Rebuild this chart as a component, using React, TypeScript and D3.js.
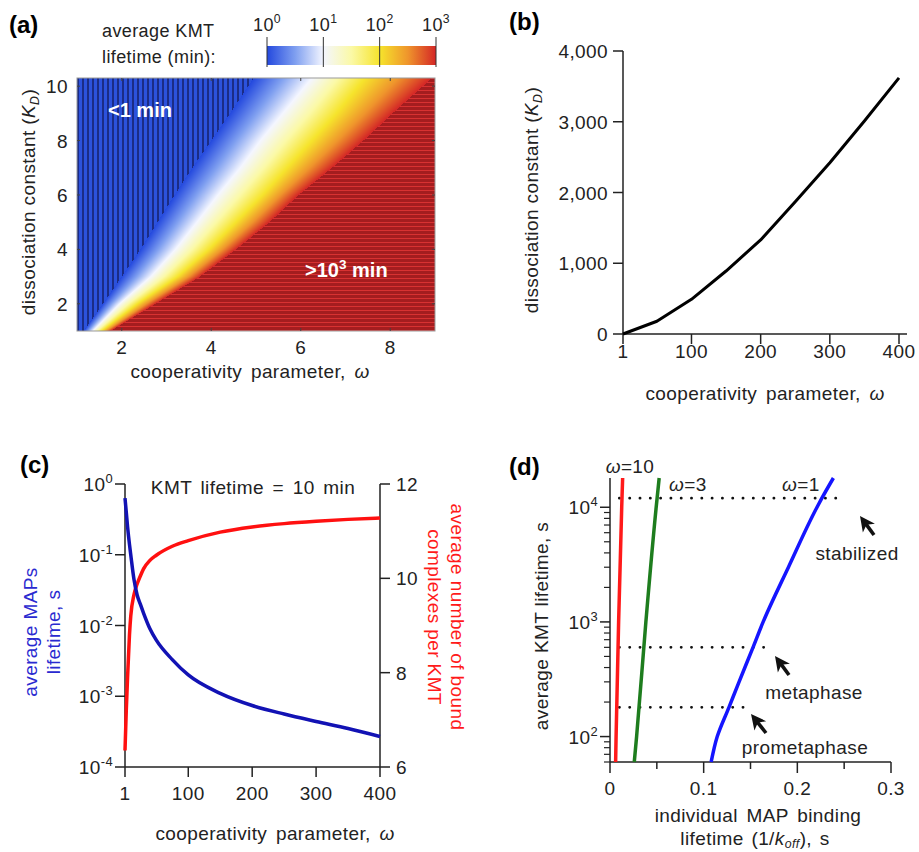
import React, { useEffect, useState } from 'react';
import * as d3 from 'd3';

const FONT = "'Liberation Sans', Arial, Helvetica, sans-serif";

// (a) omega positions of the lifetime contours (10^0..10^3 min) at each KD level
const kdLevels = [1, 2, 3, 4, 5, 6, 7, 8, 9, 10.3];
const omegaAt1min = [1.15, 1.58, 2.0, 2.42, 2.8, 3.18, 3.58, 4.0, 4.42, 4.95];
const omegaAt10min = [1.35, 1.95, 2.65, 3.2, 3.68, 4.15, 4.65, 5.1, 5.6, 6.25];
const omegaAt100min = [1.55, 2.35, 3.25, 3.95, 4.55, 5.15, 5.7, 6.25, 6.8, 7.44];
const omegaAt1000min = [1.75, 2.75, 3.75, 4.55, 5.3, 5.95, 6.7, 7.4, 8.05, 8.93];
const contourLogs = [0, 1, 2, 3];
const aXTicks = [2, 4, 6, 8];
const aYTicks = [2, 4, 6, 8, 10];

// (b) KD vs omega
const bOmega = [1, 50, 100, 150, 200, 250, 300, 350, 400];
const bKd = [0, 180, 490, 890, 1330, 1870, 2420, 3010, 3620];
const bXTicks = [1, 100, 200, 300, 400];
const bYTicks = [0, 1000, 2000, 3000, 4000];

// (c) MAP lifetime and bound complexes vs omega
const cOmega = [1, 3, 5, 8, 10, 15, 20, 25, 30, 40, 50, 75, 100, 150, 200, 250, 300, 350, 400];
const cMapLifetime = [0.63, 0.4, 0.25, 0.14, 0.1, 0.045, 0.027, 0.02, 0.015, 0.009, 0.0062, 0.0033, 0.002, 0.0011, 0.00074, 0.00056, 0.00044, 0.00035, 0.00027];
const cBound = [6.35, 7.2, 7.9, 8.8, 9.2, 9.65, 9.88, 10.05, 10.2, 10.38, 10.49, 10.68, 10.8, 10.98, 11.09, 11.16, 11.21, 11.25, 11.28];
const cXTicks = [1, 100, 200, 300, 400];
const cYLTicks = [0, -1, -2, -3, -4];
const cYRTicks = [6, 8, 10, 12];

// (d) KMT lifetime vs individual MAP binding lifetime
const dKmtW1 = [60, 100, 180, 300, 600, 1000, 3000, 10000, 12000, 18000];
const dMapW1 = [0.108, 0.1145, 0.127, 0.1378, 0.1527, 0.1635, 0.1905, 0.221, 0.2262, 0.2385];
const dKmtW3 = [60, 100, 1000, 10000, 18000];
const dMapW3 = [0.0259, 0.0284, 0.0383, 0.0493, 0.0525];
const dKmtW10 = [60, 100, 1000, 10000, 18000];
const dMapW10 = [0.006, 0.0065, 0.0092, 0.0125, 0.0135];
const phaseNames = ['stabilized', 'metaphase', 'prometaphase'];
const phaseKmt = [12000, 600, 180];
const phaseMapEnd = [0.25, 0.168, 0.145];
const dXTicks = [0, 0.1, 0.2, 0.3];
const dXMinor = [0.05, 0.15, 0.25];
const dYTicks = [2, 3, 4];

const colorStops = ['#2449de', '#7f9ff0', '#f4f6ff', '#fbf9a6', '#f6e42c', '#ef952c', '#d42626'];
const heatColor = d3.scaleLinear<string>().domain([0, 0.5, 1, 1.5, 2, 2.5, 3]).range(colorStops).interpolate(d3.interpolateRgb);

const aX = d3.scaleLinear().domain([1, 9]).range([77, 435]);
const aY = d3.scaleLinear().domain([1, 10.3]).range([331, 78]);
const cbX = d3.scaleLinear().domain([0, 3]).range([267, 436]);
const bX = d3.scaleLinear().domain([1, 400]).range([623, 899]);
const bY = d3.scaleLinear().domain([0, 4000]).range([334, 51]);
const cX = d3.scaleLinear().domain([1, 400]).range([125, 380]);
const cYL = d3.scaleLog().domain([1e-4, 1]).range([767, 484]);
const cYR = d3.scaleLinear().domain([6, 12]).range([767, 484]);
const dX = d3.scaleLinear().domain([0, 0.3]).range([610, 891]);
const dY = d3.scaleLog().domain([60, 18000]).range([762, 478]);

const Pow = ({ base, exp }: { base: string; exp: string }) => (
  <>
    <tspan>{base}</tspan>
    <tspan dy={-8} fontSize="0.68em">{exp}</tspan>
  </>
);

const Arrow = ({ x, y, dx, dy }: { x: number; y: number; dx: number; dy: number }) => {
  // tip at (x,y), tail towards (x+dx, y+dy)
  const len = Math.hypot(dx, dy);
  const ux = dx / len, uy = dy / len;
  const hl = 15, hw = 7.5;
  const bx = x + ux * hl, by = y + uy * hl;
  const head = `${x},${y} ${bx - uy * hw},${by + ux * hw} ${x + ux * (hl - 4)},${y + uy * (hl - 4)} ${bx + uy * hw},${by - ux * hw}`;
  return (
    <g>
      <line x1={x + ux * 8} y1={y + uy * 8} x2={x + dx} y2={y + dy} stroke="#111" strokeWidth={3.6} />
      <polygon points={head} fill="#111" />
    </g>
  );
};

export default function App() {
  const [heatUrl, setHeatUrl] = useState('');

  useEffect(() => {
    const [x0, x1] = aX.range();
    const [y1, y0] = aY.range();
    const w = Math.round(x1 - x0), h = Math.round(y1 - y0);
    const canvas = document.createElement('canvas');
    canvas.width = w;
    canvas.height = h;
    const ctx = canvas.getContext('2d');
    if (!ctx) return;
    const img = ctx.createImageData(w, h);
    const contours = [omegaAt1min, omegaAt10min, omegaAt100min, omegaAt1000min].map(c =>
      d3.scaleLinear().domain(kdLevels).range(c).clamp(true)
    );
    const blue = d3.rgb('#2c52dc'), navy = d3.rgb('#1b2c86');
    const dred = d3.rgb('#a41d1f'), bred = d3.rgb('#d83232');
    for (let py = 0; py < h; py++) {
      const kd = aY.invert(y0 + py + 0.5);
      const cs = contours.map(f => f(kd));
      const toLog = d3.scaleLinear().domain(cs).range(contourLogs);
      for (let px = 0; px < w; px++) {
        const om = aX.invert(x0 + px + 0.5);
        let c: d3.RGBColor;
        if (om < cs[0]) c = px % 5 < 1.6 ? navy : blue;
        else if (om > cs[3]) c = py % 4 < 1 ? bred : dred;
        else c = d3.rgb(heatColor(toLog(om)));
        const i = (py * w + px) * 4;
        img.data[i] = c.r;
        img.data[i + 1] = c.g;
        img.data[i + 2] = c.b;
        img.data[i + 3] = 255;
      }
    }
    ctx.putImageData(img, 0, 0);
    setHeatUrl(canvas.toDataURL());
  }, []);

  const bLine = d3.line<number>().x((_, i) => bX(bOmega[i])).y(d => bY(d));
  const cBlueLine = d3.line<number>().x((_, i) => cX(cOmega[i])).y(d => cYL(d)).curve(d3.curveMonotoneX);
  const cRedLine = d3.line<number>().x((_, i) => cX(cOmega[i])).y(d => cYR(d)).curve(d3.curveMonotoneX);
  const dLine = (ys: number[]) =>
    d3.line<number>().x(d => dX(d)).y((_, i) => dY(ys[i])).curve(d3.curveMonotoneY);

  const txt = { fontFamily: FONT, fontSize: 19, fill: '#222', letterSpacing: 0.4 } as const;
  const dMinor: number[] = [];
  [10, 100, 1000, 10000].forEach(p => [2, 3, 4, 5, 6, 7, 8, 9].forEach(m => {
    const v = m * p;
    if (v >= 60 && v <= 18000 && v !== 100 && v !== 1000 && v !== 10000) dMinor.push(v);
  }));

  return (
    <svg width={919} height={852} style={{ position: 'absolute', left: 0, top: 0, background: '#fff' }}>
      <defs>
        <linearGradient id="cbar" x1="0" x2="1" y1="0" y2="0">
          {colorStops.map((c, i) => (
            <stop key={i} offset={i / (colorStops.length - 1)} stopColor={c} />
          ))}
        </linearGradient>
      </defs>

      {/* ---------- (a) ---------- */}
      <text x={9} y={33} fontFamily={FONT} fontSize={24} fontWeight="bold">(a)</text>
      <text {...txt} x={102} y={37} fontSize={18}>average KMT</text>
      <text {...txt} x={102} y={63} fontSize={18}>lifetime (min):</text>
      <rect x={cbX(0)} y={46} width={cbX(3) - cbX(0)} height={19} fill="url(#cbar)" />
      {contourLogs.map(t => (
        <g key={t}>
          <line x1={cbX(t)} x2={cbX(t)} y1={37} y2={67} stroke="#333" strokeWidth={1} />
          <text {...txt} x={cbX(t)} y={31} fontSize={18} textAnchor="middle">
            <Pow base="10" exp={String(t)} />
          </text>
        </g>
      ))}
      {heatUrl && (
        <image href={heatUrl} x={aX(1)} y={aY(10.3)} width={aX(9) - aX(1)} height={aY(1) - aY(10.3)} preserveAspectRatio="none" />
      )}
      <rect x={aX(1)} y={aY(10.3)} width={aX(9) - aX(1)} height={aY(1) - aY(10.3)} fill="none" stroke="#999" />
      {aXTicks.map(t => (
        <g key={t}>
          <line x1={aX(t)} x2={aX(t)} y1={aY(10.3)} y2={aY(10.3) + 3} stroke="#444" />
          <line x1={aX(t)} x2={aX(t)} y1={aY(1)} y2={aY(1) - 3} stroke="#444" />
          <text {...txt} x={aX(t)} y={354} textAnchor="middle">{t}</text>
        </g>
      ))}
      {aYTicks.map(t => (
        <g key={t}>
          <line x1={aX(1)} x2={aX(1) + 3} y1={aY(t)} y2={aY(t)} stroke="#444" />
          <line x1={aX(9)} x2={aX(9) - 3} y1={aY(t)} y2={aY(t)} stroke="#444" />
          <text {...txt} x={68} y={aY(t) + 7} textAnchor="end">{t}</text>
        </g>
      ))}
      <text x={108} y={117} fontFamily={FONT} fontSize={20} fontWeight="bold" fill="#fff">&lt;1 min</text>
      <text x={305} y={277} fontFamily={FONT} fontSize={20} fontWeight="bold" fill="#fff">
        &gt;<Pow base="10" exp="3" /><tspan dy={8}> min</tspan>
      </text>
      <text {...txt} x={250} y={378} textAnchor="middle" wordSpacing={3}>
        cooperativity parameter, <tspan fontStyle="italic">ω</tspan>
      </text>
      <text {...txt} transform="translate(35,202) rotate(-90)" textAnchor="middle">
        dissociation constant (<tspan fontStyle="italic">K</tspan>
        <tspan fontStyle="italic" fontSize="0.65em" dy={4}>D</tspan>
        <tspan dy={-4}>)</tspan>
      </text>

      {/* ---------- (b) ---------- */}
      <text x={509} y={30} fontFamily={FONT} fontSize={24} fontWeight="bold">(b)</text>
      <line x1={bX(1)} x2={bX(1)} y1={bY(4000)} y2={bY(0)} stroke="#222" strokeWidth={1.5} />
      <line x1={bX(1)} x2={907} y1={bY(0)} y2={bY(0)} stroke="#222" strokeWidth={1.5} />
      {bYTicks.map(t => (
        <g key={t}>
          <line x1={bX(1) - 10} x2={bX(1)} y1={bY(t)} y2={bY(t)} stroke="#222" strokeWidth={1.5} />
          <text {...txt} x={608} y={bY(t) + 7} textAnchor="end">{d3.format(',')(t)}</text>
        </g>
      ))}
      {bXTicks.map(t => (
        <g key={t}>
          <line x1={bX(t)} x2={bX(t)} y1={bY(0)} y2={bY(0) + 10} stroke="#222" strokeWidth={1.5} />
          <text {...txt} x={bX(t)} y={358} textAnchor="middle">{t}</text>
        </g>
      ))}
      <path d={bLine(bKd) ?? ''} fill="none" stroke="#000" strokeWidth={3} strokeLinejoin="round" />
      <text {...txt} x={765} y={400} textAnchor="middle" wordSpacing={3}>
        cooperativity parameter, <tspan fontStyle="italic">ω</tspan>
      </text>
      <text {...txt} transform="translate(538,200) rotate(-90)" textAnchor="middle">
        dissociation constant (<tspan fontStyle="italic">K</tspan>
        <tspan fontStyle="italic" fontSize="0.65em" dy={4}>D</tspan>
        <tspan dy={-4}>)</tspan>
      </text>

      {/* ---------- (c) ---------- */}
      <text x={20} y={473} fontFamily={FONT} fontSize={24} fontWeight="bold">(c)</text>
      <line x1={cX(1)} x2={cX(1)} y1={484} y2={767} stroke="#222" strokeWidth={1.5} />
      <line x1={cX(400)} x2={cX(400)} y1={484} y2={767} stroke="#222" strokeWidth={1.5} />
      <line x1={cX(1)} x2={cX(400)} y1={767} y2={767} stroke="#222" strokeWidth={1.5} />
      {cYLTicks.map(t => (
        <g key={t}>
          <line x1={cX(1) - 10} x2={cX(1)} y1={cYL(10 ** t)} y2={cYL(10 ** t)} stroke="#222" strokeWidth={1.5} />
          <text {...txt} x={113} y={cYL(10 ** t) + 7} textAnchor="end">
            <Pow base="10" exp={String(t)} />
          </text>
        </g>
      ))}
      {cYRTicks.map(t => (
        <g key={t}>
          <line x1={cX(400)} x2={cX(400) + 10} y1={cYR(t)} y2={cYR(t)} stroke="#222" strokeWidth={1.5} />
          <text {...txt} x={396} y={cYR(t) + 7}>{t}</text>
        </g>
      ))}
      {cXTicks.map(t => (
        <g key={t}>
          <line x1={cX(t)} x2={cX(t)} y1={767} y2={777} stroke="#222" strokeWidth={1.5} />
          <text {...txt} x={cX(t)} y={800} textAnchor="middle">{t}</text>
        </g>
      ))}
      <path d={cRedLine(cBound) ?? ''} fill="none" stroke="#ff1010" strokeWidth={3.5} />
      <path d={cBlueLine(cMapLifetime) ?? ''} fill="none" stroke="#1212b4" strokeWidth={3.5} />
      <text {...txt} x={253} y={494} textAnchor="middle" wordSpacing={3}>KMT lifetime = 10 min</text>
      <text {...txt} x={275} y={840} textAnchor="middle" wordSpacing={3}>
        cooperativity parameter, <tspan fontStyle="italic">ω</tspan>
      </text>
      <g transform="translate(0,632) rotate(-90)">
        <text {...txt} fill="#2a2ad0" x={0} y={37} textAnchor="middle">average MAPs</text>
        <text {...txt} fill="#2a2ad0" x={0} y={60} textAnchor="middle">lifetime, s</text>
      </g>
      <g transform="translate(0,617) rotate(90)">
        <text {...txt} fill="#ff1a1a" x={0} y={-451} textAnchor="middle">average number of bound</text>
        <text {...txt} fill="#ff1a1a" x={0} y={-428} textAnchor="middle">complexes per KMT</text>
      </g>

      {/* ---------- (d) ---------- */}
      <text x={509} y={475} fontFamily={FONT} fontSize={24} fontWeight="bold">(d)</text>
      <line x1={dX(0)} x2={dX(0)} y1={dY(18000)} y2={dY(60)} stroke="#222" strokeWidth={1.5} />
      <line x1={dX(0)} x2={dX(0.3)} y1={dY(60)} y2={dY(60)} stroke="#222" strokeWidth={1.5} />
      {dYTicks.map(p => (
        <g key={p}>
          <line x1={dX(0) - 10} x2={dX(0)} y1={dY(10 ** p)} y2={dY(10 ** p)} stroke="#222" strokeWidth={1.5} />
          <text {...txt} x={598} y={dY(10 ** p) + 7} textAnchor="end">
            <Pow base="10" exp={String(p)} />
          </text>
        </g>
      ))}
      {dMinor.map(v => (
        <line key={v} x1={dX(0) - 6} x2={dX(0)} y1={dY(v)} y2={dY(v)} stroke="#222" strokeWidth={1.2} />
      ))}
      {dXTicks.map(t => (
        <g key={t}>
          <line x1={dX(t)} x2={dX(t)} y1={dY(60)} y2={dY(60) + 11} stroke="#222" strokeWidth={1.5} />
          <text {...txt} x={dX(t)} y={795} textAnchor="middle">{t}</text>
        </g>
      ))}
      {dXMinor.map(t => (
        <line key={t} x1={dX(t)} x2={dX(t)} y1={dY(60)} y2={dY(60) + 7} stroke="#222" strokeWidth={1.5} />
      ))}
      {phaseNames.map((n, i) => (
        <line key={n} x1={dX(0.01)} x2={dX(phaseMapEnd[i])} y1={dY(phaseKmt[i])} y2={dY(phaseKmt[i])}
          stroke="#111" strokeWidth={2.8} strokeLinecap="round" strokeDasharray="0.1 10.2" />
      ))}
      <path d={dLine(dKmtW10)(dMapW10) ?? ''} fill="none" stroke="#ff1a1a" strokeWidth={3.5} />
      <path d={dLine(dKmtW3)(dMapW3) ?? ''} fill="none" stroke="#1e7d1e" strokeWidth={3.5} />
      <path d={dLine(dKmtW1)(dMapW1) ?? ''} fill="none" stroke="#1515ff" strokeWidth={3.5} />
      <text {...txt} x={630} y={473} textAnchor="middle"><tspan fontStyle="italic">ω</tspan>=10</text>
      <text {...txt} x={669} y={491}><tspan fontStyle="italic">ω</tspan>=3</text>
      <text {...txt} x={782} y={491}><tspan fontStyle="italic">ω</tspan>=1</text>
      <text {...txt} x={857} y={560} textAnchor="middle">{phaseNames[0]}</text>
      <text {...txt} x={814} y={699} textAnchor="middle">{phaseNames[1]}</text>
      <text {...txt} x={805} y={754} textAnchor="middle">{phaseNames[2]}</text>
      <Arrow x={860} y={516} dx={14} dy={19} />
      <Arrow x={775} y={656} dx={14} dy={19} />
      <Arrow x={751} y={714} dx={15} dy={19} />
      <text {...txt} x={758} y={822} textAnchor="middle" wordSpacing={3}>individual MAP binding</text>
      <text {...txt} x={755} y={845} textAnchor="middle" wordSpacing={2}>
        lifetime (1/<tspan fontStyle="italic">k</tspan>
        <tspan fontStyle="italic" fontSize="0.65em" dy={3}>off</tspan>
        <tspan dy={-3}>), s</tspan>
      </text>
      <text {...txt} transform="translate(548,626) rotate(-90)" textAnchor="middle">average KMT lifetime, s</text>
    </svg>
  );
}
